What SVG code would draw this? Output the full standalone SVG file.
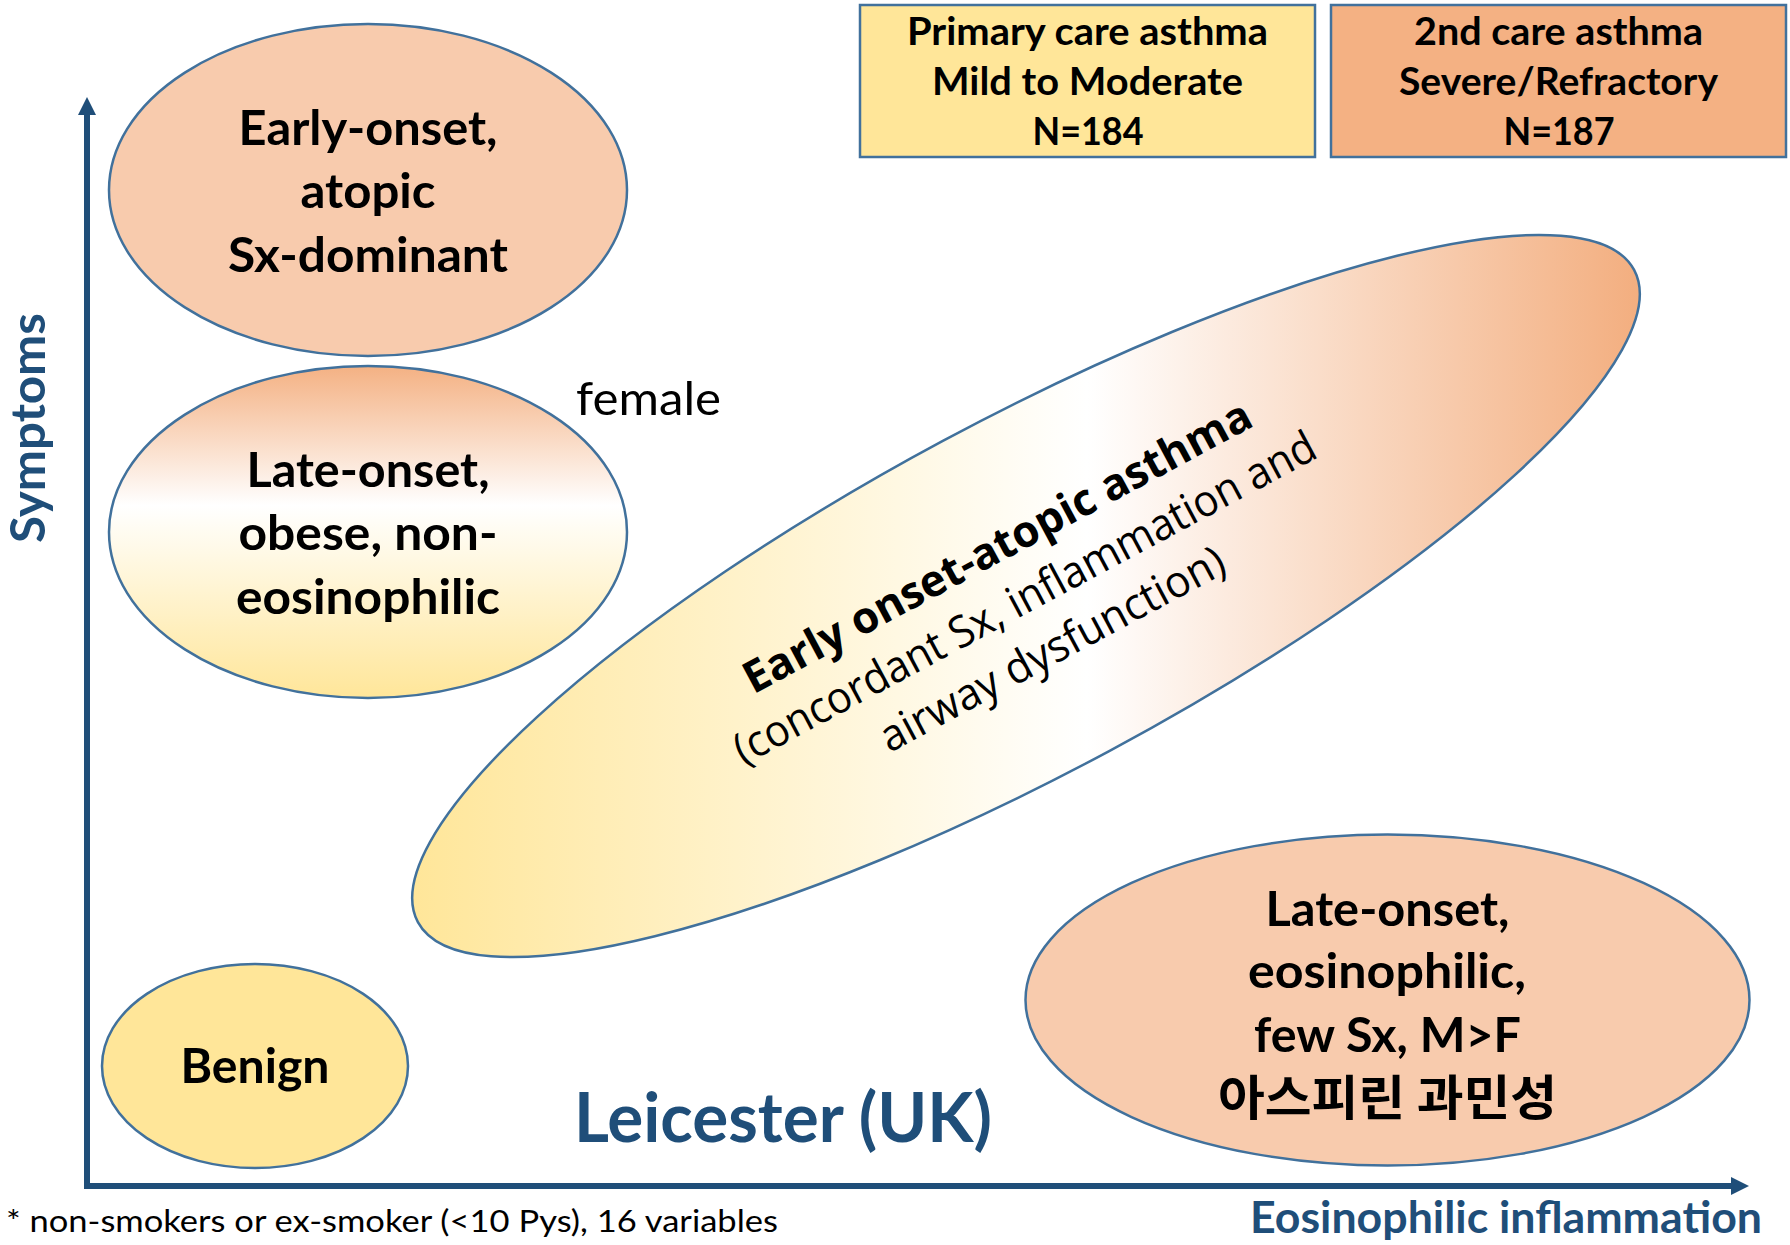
<svg xmlns="http://www.w3.org/2000/svg" width="1790" height="1245" viewBox="0 0 1790 1245">
  <defs>
    <!-- vertical fade: orange top, white middle, yellow bottom -->
    <linearGradient id="gradLateObese" x1="0" y1="0" x2="0" y2="1">
      <stop offset="0" stop-color="#F4B183"/>
      <stop offset="0.42" stop-color="#FFFFFF"/>
      <stop offset="1" stop-color="#FFE699"/>
    </linearGradient>
    <!-- page-horizontal fade across the tilted ellipse (expressed in its rotated frame) -->
    <linearGradient id="gradEarlyAtopic" gradientUnits="userSpaceOnUse" x1="-541.5" y1="-290.4" x2="541.5" y2="290.4">
      <stop offset="0" stop-color="#FFE699"/>
      <stop offset="0.55" stop-color="#FFFFFF"/>
      <stop offset="1" stop-color="#F3AE7F"/>
    </linearGradient>
    <marker id="axisHead" viewBox="0 0 18 18" markerWidth="18" markerHeight="18" refX="2" refY="9" markerUnits="userSpaceOnUse" orient="auto">
      <path d="M0,0 L18,9 L0,18 z" fill="#1F4E79"/>
    </marker>
  </defs>
  <style>
    .shape { stroke: #41719C; stroke-width: 2.5; }
    .peach { fill: #F8CBAD; }
    .yellow { fill: #FFE699; }
    .orange { fill: #F4B183; }
    .lbl { font-family: Lato, "Liberation Sans", sans-serif; font-weight: 700; fill: #000000; text-anchor: middle; }
    .node { font-size: 48px; }
    .box { font-size: 39px; }
    .plain { font-family: Lato, "Liberation Sans", sans-serif; font-weight: 400; fill: #000000; }
    .axisline { stroke: #1F4E79; stroke-width: 6; fill: none; marker-end: url(#axisHead); }
    .axislbl { font-family: Lato, "Liberation Sans", sans-serif; font-weight: 700; fill: #1F4E79; text-anchor: middle; }
    .tilted { font-family: "Open Sans", "Noto Sans", sans-serif; fill: #000000; text-anchor: middle; font-size: 44px; }
    .ko { font-family: "Noto Sans CJK KR", sans-serif; font-weight: 700; font-size: 48px; fill: #000000; text-anchor: middle; }
  </style>

  <rect x="0" y="0" width="1790" height="1245" fill="#FFFFFF"/>

  <!-- axes -->
  <g id="connectors">
    <line class="axisline" x1="87" y1="1189" x2="87" y2="113"/>
    <line class="axisline" x1="84" y1="1186" x2="1733" y2="1186"/>
  </g>

  <!-- cohort boxes -->
  <g id="box-primary-care">
    <rect class="shape yellow" x="860" y="5" width="455" height="152"/>
    <text class="lbl box" x="1087.5" y="45" textLength="361" lengthAdjust="spacingAndGlyphs">Primary care asthma</text>
    <text class="lbl box" x="1087.5" y="95" textLength="311" lengthAdjust="spacingAndGlyphs">Mild to Moderate</text>
    <text class="lbl box" x="1088" y="145" textLength="111" lengthAdjust="spacingAndGlyphs">N=184</text>
  </g>
  <g id="box-secondary-care">
    <rect class="shape orange" x="1331" y="5" width="455" height="152"/>
    <text class="lbl box" x="1558.5" y="45" textLength="289" lengthAdjust="spacingAndGlyphs">2nd care asthma</text>
    <text class="lbl box" x="1558.5" y="95" textLength="319" lengthAdjust="spacingAndGlyphs">Severe/Refractory</text>
    <text class="lbl box" x="1559" y="145" textLength="111" lengthAdjust="spacingAndGlyphs">N=187</text>
  </g>

  <!-- clusters -->
  <g id="cluster-early-onset-atopic-sx">
    <ellipse class="shape peach" cx="368" cy="190" rx="259" ry="166"/>
    <text class="lbl node" x="368" y="145" textLength="259" lengthAdjust="spacingAndGlyphs">Early-onset,</text>
    <text class="lbl node" x="368" y="208" textLength="135" lengthAdjust="spacingAndGlyphs">atopic</text>
    <text class="lbl node" x="368" y="272" textLength="280" lengthAdjust="spacingAndGlyphs">Sx-dominant</text>
  </g>

  <g id="cluster-late-onset-obese">
    <ellipse class="shape" fill="url(#gradLateObese)" cx="368" cy="532" rx="259" ry="166"/>
    <text class="lbl node" x="368" y="487" textLength="243" lengthAdjust="spacingAndGlyphs">Late-onset,</text>
    <text class="lbl node" x="368" y="550" textLength="259" lengthAdjust="spacingAndGlyphs">obese, non-</text>
    <text class="lbl node" x="368" y="614" textLength="264" lengthAdjust="spacingAndGlyphs">eosinophilic</text>
  </g>

  <g id="note-female">
    <text class="plain" x="648.5" y="415" font-size="47" text-anchor="middle" textLength="145" lengthAdjust="spacingAndGlyphs">female</text>
  </g>

  <g id="cluster-early-onset-atopic-asthma" transform="translate(1026 596) rotate(-28.2)">
    <ellipse class="shape" fill="url(#gradEarlyAtopic)" cx="0" cy="0" rx="690" ry="176"/>
    <text class="tilted" x="-2" y="-42" font-weight="700" textLength="570" lengthAdjust="spacingAndGlyphs">Early onset-atopic asthma</text>
    <text class="tilted" x="-2" y="16" font-weight="400" textLength="654" lengthAdjust="spacingAndGlyphs">(concordant Sx, inflammation and</text>
    <text class="tilted" x="-2" y="74" font-weight="400" textLength="385" lengthAdjust="spacingAndGlyphs">airway dysfunction)</text>
  </g>

  <g id="cluster-benign">
    <ellipse class="shape yellow" cx="255" cy="1066" rx="153" ry="102"/>
    <text class="lbl node" x="255" y="1083" textLength="149" lengthAdjust="spacingAndGlyphs">Benign</text>
  </g>

  <g id="cluster-late-onset-eosinophilic">
    <ellipse class="shape peach" cx="1387.5" cy="1000" rx="362" ry="165.5"/>
    <text class="lbl node" x="1387.5" y="926" textLength="244" lengthAdjust="spacingAndGlyphs">Late-onset,</text>
    <text class="lbl node" x="1387" y="988" textLength="278" lengthAdjust="spacingAndGlyphs">eosinophilic,</text>
    <text class="lbl node" x="1387.5" y="1052" textLength="267" lengthAdjust="spacingAndGlyphs">few Sx, M&gt;F</text>
    <text class="ko" x="1387.5" y="1115" textLength="339" lengthAdjust="spacingAndGlyphs">아스피린 과민성</text>
  </g>

  <!-- axis titles, cohort title and footnote -->
  <g id="axis-labels">
    <text class="axislbl" font-size="48" transform="translate(45 428) rotate(-90)" x="0" y="0" textLength="230" lengthAdjust="spacingAndGlyphs">Symptoms</text>
    <text class="axislbl" font-size="44" x="1506" y="1233" textLength="512" lengthAdjust="spacingAndGlyphs">Eosinophilic inflammation</text>
  </g>
  <g id="title">
    <text class="axislbl" font-size="68" x="783" y="1142" textLength="418" lengthAdjust="spacingAndGlyphs">Leicester (UK)</text>
  </g>
  <g id="footnote">
    <text class="plain" x="6" y="1232" font-size="31" textLength="772" lengthAdjust="spacingAndGlyphs">* non-smokers or ex-smoker (&lt;10 Pys), 16 variables</text>
  </g>
</svg>
